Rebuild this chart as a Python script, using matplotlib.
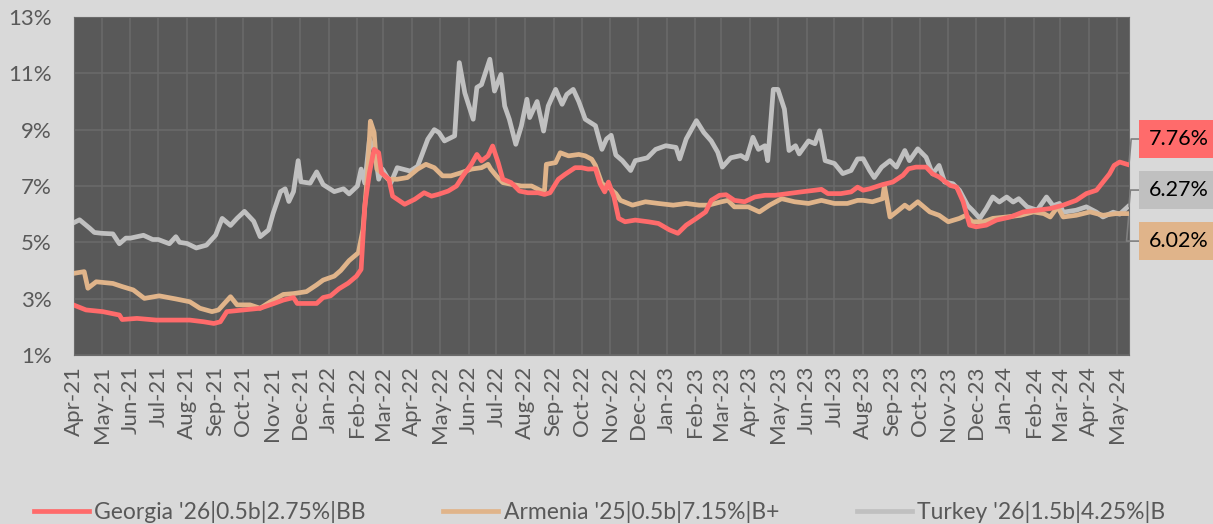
import matplotlib
matplotlib.use("Agg")
import matplotlib.pyplot as plt
import matplotlib.dates as mdates
import pandas as pd

plt.rcParams['font.family'] = ['Lato', 'DejaVu Sans']

# Georgia '26 yields (%)
georgia_dates = [
    "2021-04-01", "2021-04-14", "2021-05-02", "2021-05-20", "2021-05-23", "2021-06-08", "2021-06-29",
    "2021-07-13", "2021-08-04", "2021-08-19", "2021-08-30", "2021-09-06", "2021-09-13", "2021-10-01",
    "2021-10-19", "2021-11-03", "2021-11-13", "2021-11-24", "2021-11-28", "2021-12-12", "2021-12-19",
    "2021-12-26", "2022-01-03", "2022-01-12", "2022-01-22", "2022-01-31", "2022-02-05", "2022-02-09",
    "2022-02-14", "2022-02-19", "2022-02-24", "2022-02-27", "2022-03-07", "2022-03-11", "2022-03-24",
    "2022-04-04", "2022-04-14", "2022-04-22", "2022-04-29", "2022-05-10", "2022-05-19", "2022-05-26",
    "2022-06-04", "2022-06-10", "2022-06-15", "2022-06-22", "2022-06-27", "2022-07-03", "2022-07-08",
    "2022-07-17", "2022-07-26", "2022-08-04", "2022-08-15", "2022-08-22", "2022-08-28", "2022-09-06",
    "2022-09-13", "2022-09-24", "2022-10-01", "2022-10-08", "2022-10-16", "2022-10-21", "2022-10-26",
    "2022-10-30", "2022-11-05", "2022-11-10", "2022-11-17", "2022-11-28", "2022-12-12", "2022-12-23",
    "2023-01-04", "2023-01-13", "2023-01-22", "2023-02-02", "2023-02-12", "2023-02-18", "2023-02-27",
    "2023-03-06", "2023-03-15", "2023-03-26", "2023-04-06", "2023-04-17", "2023-04-28", "2023-05-12",
    "2023-05-26", "2023-06-10", "2023-06-17", "2023-06-24", "2023-07-08", "2023-07-19", "2023-07-26",
    "2023-08-01", "2023-08-08", "2023-08-22", "2023-09-02", "2023-09-13", "2023-09-19", "2023-09-27",
    "2023-10-08", "2023-10-15", "2023-10-22", "2023-11-03", "2023-11-10", "2023-11-17", "2023-11-24",
    "2023-12-01", "2023-12-12", "2023-12-23", "2024-01-07", "2024-01-21", "2024-02-05", "2024-02-19",
    "2024-03-04", "2024-03-18", "2024-03-29", "2024-04-09", "2024-04-16", "2024-04-23", "2024-04-28",
    "2024-05-04", "2024-05-13",
]
georgia = [
    2.77, 2.60, 2.54, 2.42, 2.26, 2.30, 2.24,
    2.24, 2.24, 2.18, 2.12, 2.18, 2.54, 2.60,
    2.66, 2.83, 2.95, 3.04, 2.83, 2.83, 2.83,
    3.04, 3.10, 3.35, 3.55, 3.80, 4.04, 6.30,
    7.47, 8.30, 8.18, 7.47, 7.24, 6.64, 6.35,
    6.53, 6.76, 6.64, 6.70, 6.82, 7.00, 7.36,
    7.77, 8.12, 7.89, 8.07, 8.42, 7.83, 7.24,
    7.12, 6.82, 6.76, 6.76, 6.70, 6.76, 7.24,
    7.41, 7.65, 7.65, 7.60, 7.61, 7.08, 6.79,
    7.14, 6.61, 5.85, 5.73, 5.79, 5.73, 5.67,
    5.44, 5.32, 5.61, 5.85, 6.08, 6.49, 6.67,
    6.69, 6.49, 6.44, 6.61, 6.67, 6.67, 6.73,
    6.79, 6.85, 6.88, 6.73, 6.73, 6.79, 6.96,
    6.85, 6.90, 7.05, 7.14, 7.38, 7.61, 7.67,
    7.67, 7.43, 7.32, 7.02, 6.96, 6.44, 5.61,
    5.55, 5.61, 5.79, 5.90, 6.08, 6.14, 6.20,
    6.32, 6.49, 6.73, 6.85, 7.14, 7.43, 7.73,
    7.85, 7.76,
]

# Armenia '25 yields (%)
armenia_dates = [
    "2021-04-01", "2021-04-12", "2021-04-16", "2021-04-25", "2021-05-13", "2021-05-23", "2021-06-04",
    "2021-06-16", "2021-07-02", "2021-07-20", "2021-08-04", "2021-08-15", "2021-08-28", "2021-09-04",
    "2021-09-17", "2021-09-24", "2021-10-08", "2021-10-19", "2021-10-30", "2021-11-13", "2021-11-24",
    "2021-12-08", "2021-12-19", "2021-12-26", "2022-01-07", "2022-01-14", "2022-01-23", "2022-02-02",
    "2022-02-07", "2022-02-12", "2022-02-15", "2022-02-19", "2022-02-22", "2022-02-27", "2022-03-06",
    "2022-03-16", "2022-03-27", "2022-04-07", "2022-04-16", "2022-04-25", "2022-05-04", "2022-05-13",
    "2022-05-24", "2022-06-04", "2022-06-15", "2022-06-22", "2022-06-25", "2022-07-01", "2022-07-08",
    "2022-07-17", "2022-07-28", "2022-08-08", "2022-08-19", "2022-08-22", "2022-08-24", "2022-09-03",
    "2022-09-08", "2022-09-17", "2022-09-28", "2022-10-05", "2022-10-12", "2022-10-16", "2022-10-23",
    "2022-10-30", "2022-11-07", "2022-11-12", "2022-11-25", "2022-12-09", "2022-12-23", "2023-01-08",
    "2023-01-22", "2023-02-05", "2023-02-15", "2023-03-01", "2023-03-08", "2023-03-15", "2023-03-30",
    "2023-04-11", "2023-04-22", "2023-05-05", "2023-05-19", "2023-06-03", "2023-06-17", "2023-07-01",
    "2023-07-15", "2023-07-26", "2023-08-01", "2023-08-11", "2023-08-22", "2023-08-24", "2023-08-30",
    "2023-09-06", "2023-09-15", "2023-09-20", "2023-09-29", "2023-10-12", "2023-10-22", "2023-11-01",
    "2023-11-13", "2023-11-20", "2023-11-27", "2023-12-09", "2023-12-19", "2024-01-03", "2024-01-18",
    "2024-02-01", "2024-02-12", "2024-02-19", "2024-02-27", "2024-03-04", "2024-03-18", "2024-04-02",
    "2024-04-16", "2024-04-30", "2024-05-13",
]
armenia = [
    3.90, 3.96, 3.37, 3.60, 3.54, 3.43, 3.31,
    3.01, 3.10, 2.99, 2.89, 2.66, 2.54, 2.60,
    3.07, 2.78, 2.78, 2.66, 2.89, 3.15, 3.18,
    3.25, 3.49, 3.66, 3.80, 4.00, 4.35, 4.63,
    5.46, 7.47, 9.30, 8.90, 7.60, 7.47, 7.24,
    7.24, 7.30, 7.60, 7.77, 7.65, 7.36, 7.36,
    7.47, 7.60, 7.65, 7.77, 7.60, 7.36, 7.12,
    7.06, 7.00, 7.00, 6.82, 6.85, 7.77, 7.83,
    8.18, 8.07, 8.12, 8.07, 7.95, 7.73, 7.08,
    6.96, 6.73, 6.49, 6.32, 6.44, 6.38, 6.32,
    6.38, 6.32, 6.32, 6.44, 6.49, 6.26, 6.26,
    6.08, 6.32, 6.55, 6.44, 6.38, 6.49, 6.38,
    6.38, 6.49, 6.49, 6.44, 6.55, 7.02, 5.90,
    6.08, 6.32, 6.20, 6.44, 6.08, 5.96, 5.73,
    5.85, 5.96, 5.73, 5.73, 5.85, 5.90, 5.96,
    6.08, 6.02, 5.90, 6.26, 5.90, 5.96, 6.08,
    5.96, 6.02, 6.02,
]

# Turkey '26 yields (%)
turkey_dates = [
    "2021-04-01", "2021-04-07", "2021-04-18", "2021-04-23", "2021-05-01", "2021-05-13", "2021-05-20",
    "2021-05-27", "2021-06-01", "2021-06-15", "2021-06-25", "2021-07-01", "2021-07-13", "2021-07-20",
    "2021-07-24", "2021-08-01", "2021-08-11", "2021-08-22", "2021-09-01", "2021-09-08", "2021-09-17",
    "2021-09-24", "2021-10-02", "2021-10-12", "2021-10-19", "2021-10-28", "2021-11-02", "2021-11-10",
    "2021-11-15", "2021-11-19", "2021-11-24", "2021-11-29", "2021-12-02", "2021-12-12", "2021-12-19",
    "2021-12-26", "2022-01-07", "2022-01-17", "2022-01-23", "2022-02-01", "2022-02-05", "2022-02-09",
    "2022-02-14", "2022-02-20", "2022-02-24", "2022-02-28", "2022-03-09", "2022-03-16", "2022-03-30",
    "2022-04-07", "2022-04-18", "2022-04-25", "2022-04-30", "2022-05-06", "2022-05-17", "2022-05-22",
    "2022-05-28", "2022-06-06", "2022-06-10", "2022-06-15", "2022-06-24", "2022-06-29", "2022-07-06",
    "2022-07-10", "2022-07-15", "2022-07-22", "2022-07-28", "2022-08-03", "2022-08-06", "2022-08-14",
    "2022-08-21", "2022-08-26", "2022-09-03", "2022-09-10", "2022-09-15", "2022-09-22", "2022-09-28",
    "2022-10-05", "2022-10-16", "2022-10-23", "2022-10-28", "2022-11-02", "2022-11-07", "2022-11-14",
    "2022-11-23", "2022-11-28", "2022-12-11", "2022-12-20", "2022-12-31", "2023-01-11", "2023-01-15",
    "2023-01-22", "2023-02-02", "2023-02-10", "2023-02-18", "2023-02-25", "2023-03-02", "2023-03-11",
    "2023-03-22", "2023-03-28", "2023-04-04", "2023-04-10", "2023-04-17", "2023-04-20", "2023-04-26",
    "2023-05-01", "2023-05-08", "2023-05-13", "2023-05-20", "2023-05-24", "2023-06-03", "2023-06-10",
    "2023-06-15", "2023-06-21", "2023-07-01", "2023-07-10", "2023-07-19", "2023-07-26", "2023-08-01",
    "2023-08-08", "2023-08-13", "2023-08-21", "2023-08-30", "2023-09-06", "2023-09-15", "2023-09-20",
    "2023-09-29", "2023-10-08", "2023-10-15", "2023-10-22", "2023-10-28", "2023-11-06", "2023-11-13",
    "2023-11-22", "2023-11-27", "2023-12-05", "2023-12-12", "2023-12-19", "2023-12-26", "2024-01-03",
    "2024-01-10", "2024-01-16", "2024-01-25", "2024-02-05", "2024-02-15", "2024-02-22", "2024-02-29",
    "2024-03-04", "2024-03-18", "2024-03-29", "2024-04-09", "2024-04-16", "2024-04-27", "2024-05-04",
    "2024-05-13",
]
turkey = [
    5.70, 5.80, 5.50, 5.35, 5.32, 5.30, 4.95,
    5.15, 5.15, 5.25, 5.10, 5.10, 4.95, 5.20,
    5.00, 4.96, 4.80, 4.90, 5.26, 5.85, 5.60,
    5.85, 6.10, 5.75, 5.20, 5.44, 6.03, 6.80,
    6.90, 6.45, 6.80, 7.90, 7.15, 7.10, 7.50,
    7.05, 6.80, 6.90, 6.72, 7.00, 7.60, 7.10,
    8.66, 8.20, 7.24, 7.60, 7.10, 7.65, 7.53,
    7.70, 8.66, 9.00, 8.90, 8.60, 8.78, 11.38,
    10.30, 9.37, 10.50, 10.60, 11.50, 10.37, 10.96,
    9.84, 9.37, 8.48, 9.13, 10.08, 9.43, 10.00,
    8.95, 9.84, 10.43, 9.90, 10.25, 10.43, 10.00,
    9.37, 9.14, 8.30, 8.67, 8.80, 8.10, 7.90,
    7.55, 7.90, 8.00, 8.30, 8.43, 8.37, 7.96,
    8.67, 9.32, 8.90, 8.60, 8.20, 7.67, 8.00,
    8.08, 7.96, 8.73, 8.30, 8.43, 7.90, 10.43,
    10.43, 9.73, 8.26, 8.43, 8.14, 8.60, 8.50,
    8.96, 7.90, 7.80, 7.44, 7.55, 7.96, 7.97,
    7.55, 7.30, 7.67, 7.90, 7.67, 8.26, 7.90,
    8.32, 8.02, 7.43, 7.73, 7.14, 7.08, 6.85,
    6.30, 6.14, 5.85, 6.20, 6.61, 6.43, 6.61,
    6.43, 6.55, 6.26, 6.14, 6.61, 6.30, 6.38,
    6.07, 6.14, 6.26, 6.07, 5.90, 6.07, 6.00,
    6.27,
]

series_labels = ["Georgia '26|0.5b|2.75%|BB", "Armenia '25|0.5b|7.15%|B+", "Turkey '26|1.5b|4.25%|B"]
series_colors = ["#ff6b6b", "#e0b48a", "#c0c0c0"]
end_labels = ["7.76%", "6.27%", "6.02%"]

bg = "#d9d9d9"
txt = "#595959"

fig = plt.figure(figsize=(12.13, 5.24), dpi=100, facecolor=bg)
ax = fig.add_axes([0.061, 0.3225, 0.8697, 0.6451])
ax.set_facecolor("#595959")

# draw gray first so red/tan sit on top where they overlap
ax.plot(pd.to_datetime(turkey_dates), turkey, color=series_colors[2], lw=3.4, label=series_labels[2], zorder=3)
ax.plot(pd.to_datetime(armenia_dates), armenia, color=series_colors[1], lw=3.4, label=series_labels[1], zorder=4)
ax.plot(pd.to_datetime(georgia_dates), georgia, color=series_colors[0], lw=3.4, label=series_labels[0], zorder=5)

ax.set_ylim(1, 13)
ax.set_yticks(range(1, 14, 2))
ax.set_yticklabels([f"{v}%" for v in range(1, 14, 2)])
ax.set_xlim(pd.Timestamp("2021-04-01"), pd.Timestamp("2024-05-14"))
ax.xaxis.set_major_locator(mdates.MonthLocator())
ax.xaxis.set_major_formatter(mdates.DateFormatter("%b-%y"))
ax.tick_params(axis="x", rotation=90, length=0, pad=8, labelsize=16, labelcolor=txt)
ax.tick_params(axis="y", length=0, pad=16, labelsize=16, labelcolor=txt)
ax.grid(True, color="#6b6b6b", lw=1.1, zorder=0)
ax.set_axisbelow(True)
for s in ax.spines.values():
    s.set_color("#6b6b6b")

# end value labels with leader lines
last_vals = [georgia[-1], turkey[-1], armenia[-1]]
box_colors = [series_colors[0], series_colors[2], series_colors[1]]
box_y = [0.639, 0.488, 0.337]   # axes fraction
for v, c, t, by in zip(last_vals, box_colors, [end_labels[0], end_labels[1], end_labels[2]], box_y):
    ax.annotate(t, xy=(pd.Timestamp("2024-05-14"), v), xycoords="data",
                xytext=(1.0185, by), textcoords="axes fraction",
                ha="left", va="center", fontsize=15.5, color="black",
                bbox=dict(boxstyle="square,pad=0.42", fc=c, ec="none"),
                arrowprops=dict(arrowstyle="-", color="#7f7f7f", lw=1.2,
                                shrinkA=0, shrinkB=0,
                                connectionstyle="angle,angleA=0,angleB=85,rad=0"),
                annotation_clip=False)

handles, labels = ax.get_legend_handles_labels()
order = [2, 1, 0]
fig.legend([handles[i] for i in order], [labels[i] for i in order],
           loc="center left", bbox_to_anchor=(34 / 1213, 0.023), ncol=3,
           frameon=False, fontsize=16.5, labelcolor=txt, handlelength=2.4,
           handletextpad=0.22, columnspacing=3.4, borderpad=0, borderaxespad=0)

fig.savefig("out.png", dpi=100, facecolor=bg)
